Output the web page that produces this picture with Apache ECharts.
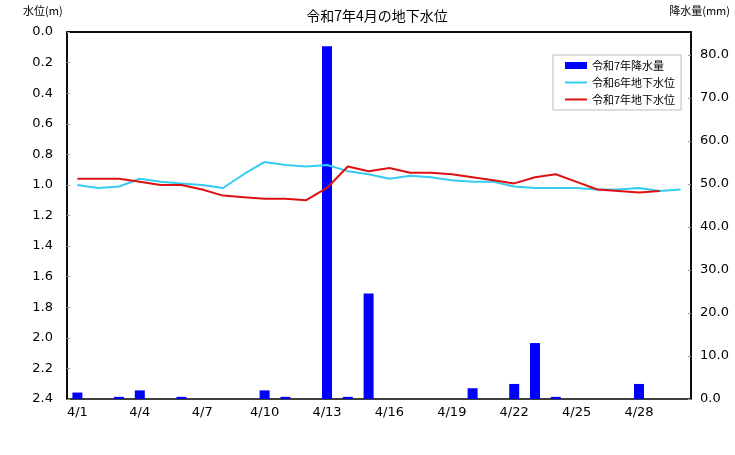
<!DOCTYPE html>
<html lang="ja">
<head>
    <meta charset="UTF-8">
    <title>令和7年4月の地下水位</title>
    <script src="https://cdn.jsdelivr.net/npm/echarts@6.0.0/dist/echarts.min.js"></script>
    <style>
        html, body { margin: 0; padding: 0; background: #fff; }
        #chart { width: 735px; height: 455px; }
    </style>
</head>
<body>
    <div id="chart"></div>
    <script type="text/javascript">
    // days of April
    var days = ['4/1','4/2','4/3','4/4','4/5','4/6','4/7','4/8','4/9','4/10',
                '4/11','4/12','4/13','4/14','4/15','4/16','4/17','4/18','4/19','4/20',
                '4/21','4/22','4/23','4/24','4/25','4/26','4/27','4/28','4/29','4/30'];

    // 令和7年降水量 (mm)
    var rainR7 = [1.5, 0, 0.5, 2.0, 0, 0.5, 0, 0, 0, 2.0,
                  0.5, 0, 82.0, 0.5, 24.5, 0, 0, 0, 0, 2.5,
                  0, 3.5, 13.0, 0.5, 0, 0, 0, 3.5, 0, 0];

    // 令和6年地下水位 (m)
    var levelR6 = [1.00, 1.02, 1.01, 0.96, 0.98, 0.99, 1.00, 1.02, 0.93, 0.85,
                   0.87, 0.88, 0.87, 0.91, 0.93, 0.96, 0.94, 0.95, 0.97, 0.98,
                   0.98, 1.01, 1.02, 1.02, 1.02, 1.03, 1.03, 1.02, 1.04, 1.03];

    // 令和7年地下水位 (m) - no value yet for 4/30
    var levelR7 = [0.96, 0.96, 0.96, 0.98, 1.00, 1.00, 1.03, 1.07, 1.08, 1.09,
                   1.09, 1.10, 1.02, 0.88, 0.91, 0.89, 0.92, 0.92, 0.93, 0.95,
                   0.97, 0.99, 0.95, 0.93, 0.98, 1.03, 1.04, 1.05, 1.04, null];

    var numFont = 'DejaVu Sans';
    var jpFont = '"Noto Sans CJK JP", sans-serif';

    var chart = echarts.init(document.getElementById('chart'));
    var option = {
        animation: false,
        backgroundColor: '#fff',
        graphic: [
            { type: 'text', x: 377, y: 16, style: { text: '令和7年4月の地下水位', font: '14px ' + jpFont, fill: '#000', align: 'center', verticalAlign: 'middle' } },
            { type: 'text', x: 23, y: 11, style: { text: '水位(m)', font: '11px ' + jpFont, fill: '#000', align: 'left', verticalAlign: 'middle' } },
            { type: 'text', x: 730, y: 11, style: { text: '降水量(mm)', font: '11px ' + jpFont, fill: '#000', align: 'right', verticalAlign: 'middle' } }
        ],
        grid: {
            left: 67, top: 32, right: 44, bottom: 56,
            show: true, borderColor: '#000', borderWidth: 1.5
        },
        legend: {
            orient: 'vertical',
            left: 553, top: 55,
            backgroundColor: '#fff',
            borderColor: '#bbb', borderWidth: 1,
            padding: [5, 6, 5, 11],
            itemGap: 6,
            itemWidth: 22, itemHeight: 7,
            textStyle: { fontFamily: jpFont, fontSize: 11, color: '#000' },
            data: [
                { name: '令和7年降水量', icon: 'rect' },
                { name: '令和6年地下水位', itemStyle: { opacity: 0 } },
                { name: '令和7年地下水位', itemStyle: { opacity: 0 } }
            ]
        },
        xAxis: {
            type: 'category',
            data: days,
            boundaryGap: true,
            axisLine: { lineStyle: { color: '#000', width: 1.5 } },
            axisTick: { show: false },
            axisLabel: { interval: 2, margin: 7, fontFamily: numFont, fontSize: 13, color: '#000' },
            splitLine: { show: false }
        },
        yAxis: [
            {
                type: 'value',
                inverse: true,
                min: 0, max: 2.4, interval: 0.2,
                axisLine: { show: true, lineStyle: { color: '#000', width: 1.5 } },
                axisTick: { show: true, inside: true, length: 3, lineStyle: { color: '#999' } },
                axisLabel: { margin: 14, fontFamily: numFont, fontSize: 13, color: '#000',
                    formatter: function (v) { return v.toFixed(1); } },
                splitLine: { show: false }
            },
            {
                type: 'value',
                min: 0, max: 85.3, interval: 10,
                axisLine: { show: true, lineStyle: { color: '#000', width: 1.5 } },
                axisTick: { show: true, inside: true, length: 3, lineStyle: { color: '#999' } },
                axisLabel: { margin: 9, fontFamily: numFont, fontSize: 13, color: '#000', showMaxLabel: false,
                    formatter: function (v) { return v.toFixed(1); } },
                splitLine: { show: false }
            }
        ],
        series: [
            {
                name: '令和7年降水量',
                type: 'bar',
                yAxisIndex: 1,
                barWidth: 10,
                itemStyle: { color: '#0000ff' },
                data: rainR7
            },
            {
                name: '令和6年地下水位',
                type: 'line',
                yAxisIndex: 0,
                symbol: 'none',
                lineStyle: { color: '#33ccf0', width: 2 },
                itemStyle: { color: '#33ccf0' },
                data: levelR6
            },
            {
                name: '令和7年地下水位',
                type: 'line',
                yAxisIndex: 0,
                symbol: 'none',
                lineStyle: { color: '#dd1111', width: 2 },
                itemStyle: { color: '#dd1111' },
                data: levelR7
            }
        ]
    };
    chart.setOption(option);
    </script>
</body>
</html>
